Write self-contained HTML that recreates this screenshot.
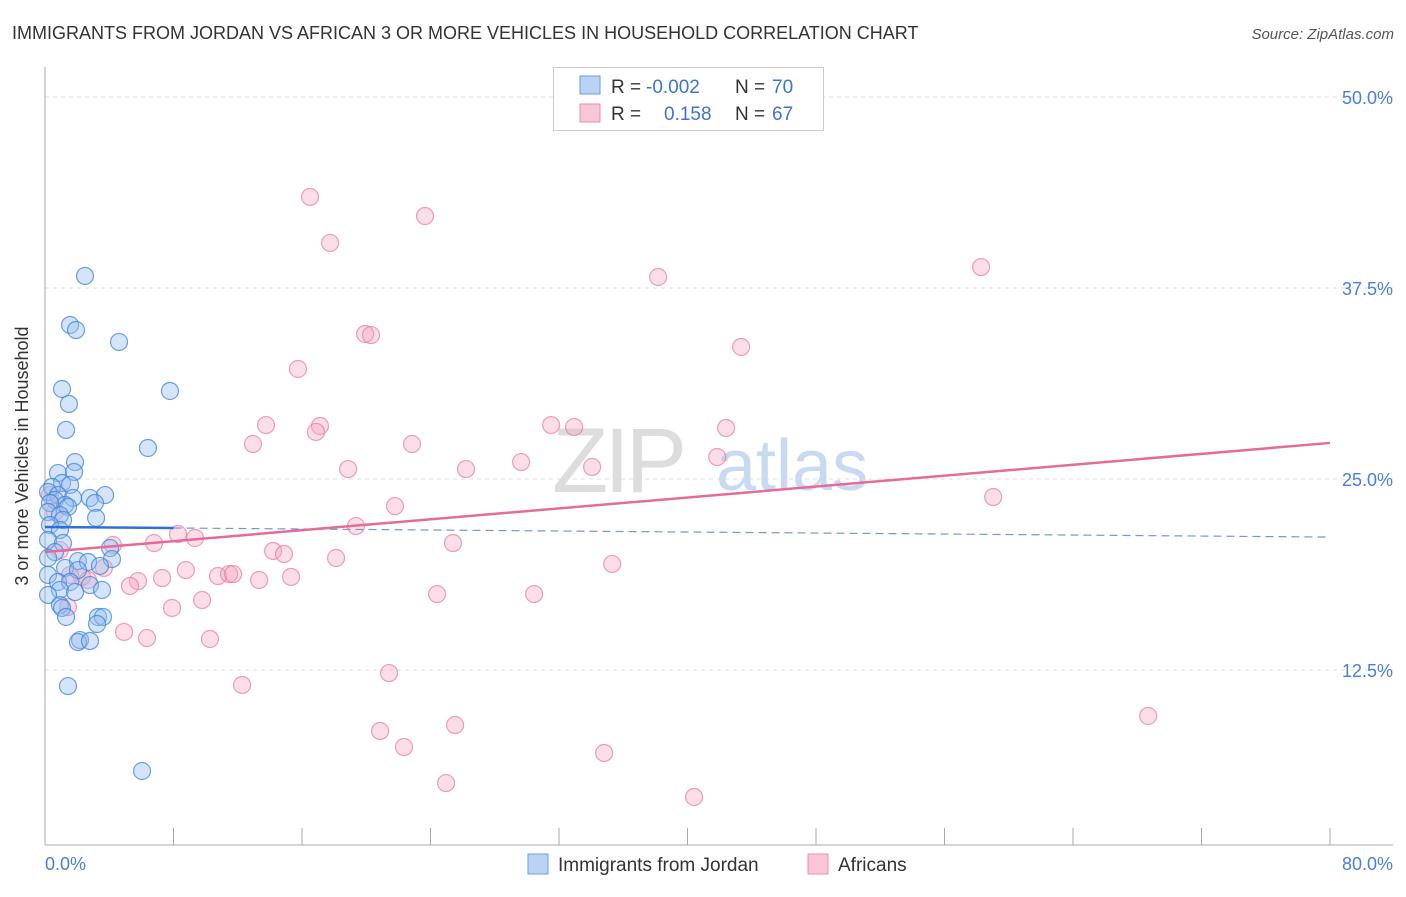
<!DOCTYPE html>
<html><head><meta charset="utf-8"><style>
body{margin:0;background:#fff;font-family:"Liberation Sans",sans-serif;}
svg text{font-family:"Liberation Sans",sans-serif;}
</style></head><body>
<svg width="1406" height="892" viewBox="0 0 1406 892">
<text x="12" y="39" font-size="18" fill="#333">IMMIGRANTS FROM JORDAN VS AFRICAN 3 OR MORE VEHICLES IN HOUSEHOLD CORRELATION CHART</text>
<text x="1394" y="39" font-size="15" fill="#555" font-style="italic" text-anchor="end">Source: ZipAtlas.com</text>
<g id="grid"></g>
<g id="wm">
<text x="552" y="492" font-size="92" fill="#ddd" font-family="Liberation Serif" letter-spacing="-4">ZIP</text>
<text x="716" y="490" font-size="72" fill="#c8daf2">atlas</text>
</g>
<g id="pts"></g>
<g id="lines"></g>
<text x="28" y="456" font-size="18" fill="#333" transform="rotate(-90 28 456)" text-anchor="middle">3 or more Vehicles in Household</text>
<text x="45" y="870" font-size="18" fill="#4a7fd6">0.0%</text>
<text x="1393" y="870" font-size="18" fill="#4a7fd6" text-anchor="end">80.0%</text>
<g>
<rect x="553.5" y="67.5" width="270" height="63" fill="#fff" stroke="#ccc"/>
<rect x="580" y="76" width="20" height="18" fill="#b9d3f5" stroke="#6a9ee6"/>
<rect x="580" y="104" width="20" height="18" fill="#f9c6d6" stroke="#ea8fb0"/>
<text x="611" y="93" font-size="19" fill="#333">R = </text><text x="646" y="93" font-size="19" fill="#3d74d0">-0.002</text>
<text x="735" y="93" font-size="19" fill="#333">N = </text><text x="772" y="93" font-size="19" fill="#3d74d0">70</text>
<text x="611" y="120" font-size="19" fill="#333">R = </text><text x="664" y="120" font-size="19" fill="#3d74d0">0.158</text>
<text x="735" y="120" font-size="19" fill="#333">N = </text><text x="772" y="120" font-size="19" fill="#3d74d0">67</text>
</g>
<g>
<rect x="528" y="854" width="20" height="20" fill="#b9d3f5" stroke="#6a9ee6"/>
<text x="558" y="871" font-size="19" fill="#333">Immigrants from Jordan</text>
<rect x="808" y="854" width="20" height="20" fill="#f9c6d6" stroke="#ea8fb0"/>
<text x="838" y="871" font-size="19" fill="#333">Africans</text>
</g>
</svg>
<script>
const yTicks=[12.5,25,37.5,50];
const yTickLabels=["12.5%","25.0%","37.5%","50.0%"];
const xTicks=[0,8,16,24,32,40,48,56,64,72,80];
const blueX=[2.49,1.56,1.93,4.61,1.06,7.78,1.49,1.31,6.41,1.87,0.81,1.81,1.06,1.56,0.44,0.19,0.81,2.80,3.74,1.74,0.62,1.25,0.31,3.11,1.43,0.19,0.93,3.18,1.12,0.31,0.93,0.19,1.12,4.05,0.62,0.19,2.05,4.17,2.68,3.42,1.25,2.05,0.19,0.81,1.56,2.80,0.93,1.87,3.55,0.19,0.93,1.06,1.31,3.30,3.61,3.24,2.18,2.05,2.80,1.43,6.04];
const blueY=[38.29,35.08,34.75,33.97,30.89,30.76,29.91,28.21,27.03,26.11,25.39,25.46,24.74,24.61,24.48,24.15,23.95,23.76,23.95,23.76,23.63,23.30,23.43,23.43,23.17,22.84,22.64,22.45,22.32,21.99,21.66,21.01,20.81,20.48,20.22,19.83,19.63,19.76,19.57,19.31,19.18,19.04,18.72,18.26,18.26,18.06,17.74,17.60,17.74,17.41,16.75,16.56,15.97,15.97,15.97,15.51,14.46,14.33,14.40,11.45,5.89];
const pinkX=[16.50,23.66,17.75,38.17,58.28,19.93,20.30,43.34,15.75,13.76,31.51,32.94,42.40,17.12,12.95,16.87,22.85,41.85,29.64,18.87,26.21,34.06,59.03,21.79,19.36,8.28,9.34,25.40,6.79,4.23,14.20,14.88,18.12,35.31,3.67,8.77,7.29,10.77,11.46,11.71,13.33,15.32,5.79,5.29,2.30,2.68,9.78,24.41,30.45,7.91,1.43,4.92,6.35,10.27,21.42,12.27,68.68,20.86,25.53,22.35,34.81,24.97,40.41,0.31,0.62,0.93,1.56];
const pinkY=[43.46,42.21,40.45,38.22,38.87,34.49,34.42,33.64,32.20,28.53,28.53,28.40,28.34,28.47,27.29,28.08,27.29,26.44,26.11,25.65,25.65,25.79,23.82,23.23,21.92,21.40,21.14,20.81,20.81,20.68,20.29,20.09,19.83,19.44,19.18,19.04,18.52,18.65,18.78,18.78,18.39,18.59,18.32,18.00,18.59,18.39,17.08,17.47,17.47,16.56,16.62,14.99,14.59,14.53,12.30,11.52,9.49,8.51,8.90,7.46,7.07,5.10,4.19,23.95,22.84,20.35,18.72];
const blueTrend=[21.86,21.2];
const pinkTrend=[20.22,27.36];
const NS="http://www.w3.org/2000/svg";
const X=v=>45+v*(1285/80);
const Y=v=>861-v*(191/12.5);
function mk(t,a,p){const e=document.createElementNS(NS,t);for(const k in a)e.setAttribute(k,a[k]);p.appendChild(e);return e;}
const grid=document.getElementById('grid');
yTicks.forEach((t,i)=>{
 const l=mk('line',{x1:45,x2:1393,y1:Y(t),y2:Y(t),stroke:'#ddd','stroke-dasharray':'4,4'},grid);
 
 
 const tx=mk('text',{x:1393,y:Y(t)+7,'font-size':18,fill:'#4a7fd6','text-anchor':'end'},grid);
 tx.textContent=yTickLabels[i];
 
 
});
const ya=mk('line',{x1:45,x2:45,y1:67,y2:845,stroke:'#aaa'},grid);


const xa=mk('line',{x1:45,x2:1393,y1:845,y2:845,stroke:'#aaa'},grid);


xTicks.forEach(t=>{
 const l=mk('line',{x1:X(t),x2:X(t),y1:828,y2:845,stroke:'#aaa'},grid);
 
 
});
const pts=document.getElementById('pts');
pinkX.forEach((v,i)=>{
 const c=mk('circle',{cx:X(v),cy:Y(pinkY[i]),r:8.5,fill:'rgba(244,160,188,0.35)',stroke:'rgba(232,120,160,0.7)','stroke-width':1.2},pts);
 
 
});
blueX.forEach((v,i)=>{
 const c=mk('circle',{cx:X(v),cy:Y(blueY[i]),r:8.5,fill:'rgba(150,190,240,0.4)',stroke:'rgba(60,130,220,0.75)','stroke-width':1.2},pts);
 
 
});
const lg=document.getElementById('lines');
const bm=blueTrend[0]+(blueTrend[1]-blueTrend[0])*(8/80);
const b1=mk('line',{x1:X(0),y1:Y(blueTrend[0]),x2:X(8),y2:Y(bm),stroke:'#2f6fd6','stroke-width':2.5},lg);


const b2=mk('line',{x1:X(8),y1:Y(bm),x2:X(80),y2:Y(blueTrend[1]),stroke:'#6f9ad8','stroke-width':1.2,'stroke-dasharray':'8,5'},lg);


const p1=mk('line',{x1:X(0),y1:Y(pinkTrend[0]),x2:X(80),y2:Y(pinkTrend[1]),stroke:'#e66b98','stroke-width':2.5},lg);


</script>
</body></html>
